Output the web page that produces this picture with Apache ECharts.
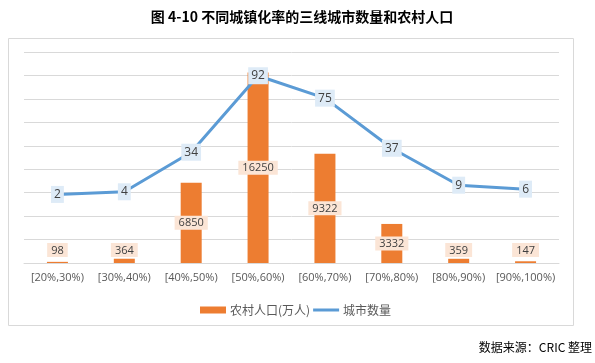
<!DOCTYPE html>
<html>
<head>
<meta charset="utf-8">
<script src="https://cdn.jsdelivr.net/npm/echarts@6/dist/echarts.min.js"></script>
<style>
html,body{margin:0;padding:0;background:#fff;}
#c{width:595px;height:363px;}
</style>
</head>
<body>
<div id="c"></div>
<script>
var categories = ['[20%,30%)','[30%,40%)','[40%,50%)','[50%,60%)','[60%,70%)','[70%,80%)','[80%,90%)','[90%,100%)'];
var ruralPop = [98, 364, 6850, 16250, 9322, 3332, 359, 147];
var cityCount = [2, 4, 34, 92, 75, 37, 9, 6];
var barName = '农村人口(万人)';
var lineName = '城市数量';
var titleText = '图 4-10 不同城镇化率的三线城市数量和农村人口';
var sourceText = '数据来源：CRIC 整理';

var chart = echarts.init(document.getElementById('c'), null, {renderer: 'canvas'});
var labelFont = 'Open Sans, Liberation Sans, sans-serif';

var barData = ruralPop.map(function (v) {
  var small = v < 1000;
  return {
    value: v,
    label: small ? {position: 'insideBottom', distance: 6} : {position: 'inside'}
  };
});

chart.setOption({
  animation: false,
  graphic: [
    {type: 'rect', shape: {x: 8.5, y: 38.5, width: 565, height: 287}, style: {fill: 'none', stroke: '#d9d9d9', lineWidth: 1}, z: 0},
    {type: 'text', x: 302, y: 17, style: {text: titleText, align: 'center', verticalAlign: 'middle', font: 'bold 14px "Noto Sans CJK SC", sans-serif', fill: '#000'}},
    {type: 'text', x: 592, y: 347, style: {text: sourceText, align: 'right', verticalAlign: 'middle', font: '12px "Noto Sans CJK SC", sans-serif', fill: '#000'}}
  ],
  legend: {
    left: 195, top: 299,
    itemGap: 3,
    itemWidth: 26, itemHeight: 7,
    textStyle: {color: '#595959', fontSize: 12, fontFamily: '"Noto Sans CJK SC", sans-serif', padding: [0, 0, 0, -1]},
    data: [{name: barName, icon: 'rect'}, {name: lineName, icon: 'path://M0,0 L26,0 L26,3 L0,3 Z'}]
  },
  grid: {left: 24, right: 36, top: 52, bottom: 100, containLabel: false},
  xAxis: {
    type: 'category',
    data: categories,
    axisLine: {lineStyle: {color: '#d9d9d9'}},
    axisTick: {show: false},
    axisLabel: {color: '#595959', fontSize: 11, fontFamily: labelFont, margin: 9, interval: 0}
  },
  yAxis: [
    {type: 'value', min: 0, max: 18000, interval: 2000, axisLabel: {show: false}, axisLine: {show: false}, axisTick: {show: false},
     splitLine: {lineStyle: {color: '#d9d9d9'}}},
    {type: 'value', min: -50, max: 110, show: false, splitLine: {show: false}}
  ],
  series: [
    {
      name: barName, type: 'bar', yAxisIndex: 0, data: barData, barWidth: 21, clip: false,
      itemStyle: {color: '#ed7d31'},
      label: {show: true, color: '#404040', fontSize: 11, fontFamily: labelFont, backgroundColor: '#fbe5d6', padding: [2, 4, 1, 4]},
      z: 2
    },
    {
      name: lineName, type: 'line', yAxisIndex: 1, data: cityCount, symbol: 'circle', symbolSize: 1, showSymbol: true,
      lineStyle: {color: '#5b9bd5', width: 3}, itemStyle: {color: '#5b9bd5'},
      label: {show: true, position: 'inside', color: '#404040', fontSize: 12, fontFamily: labelFont, backgroundColor: '#deebf7', padding: [3, 3, 2, 3]},
      z: 3
    }
  ]
});
</script>
</body>
</html>
